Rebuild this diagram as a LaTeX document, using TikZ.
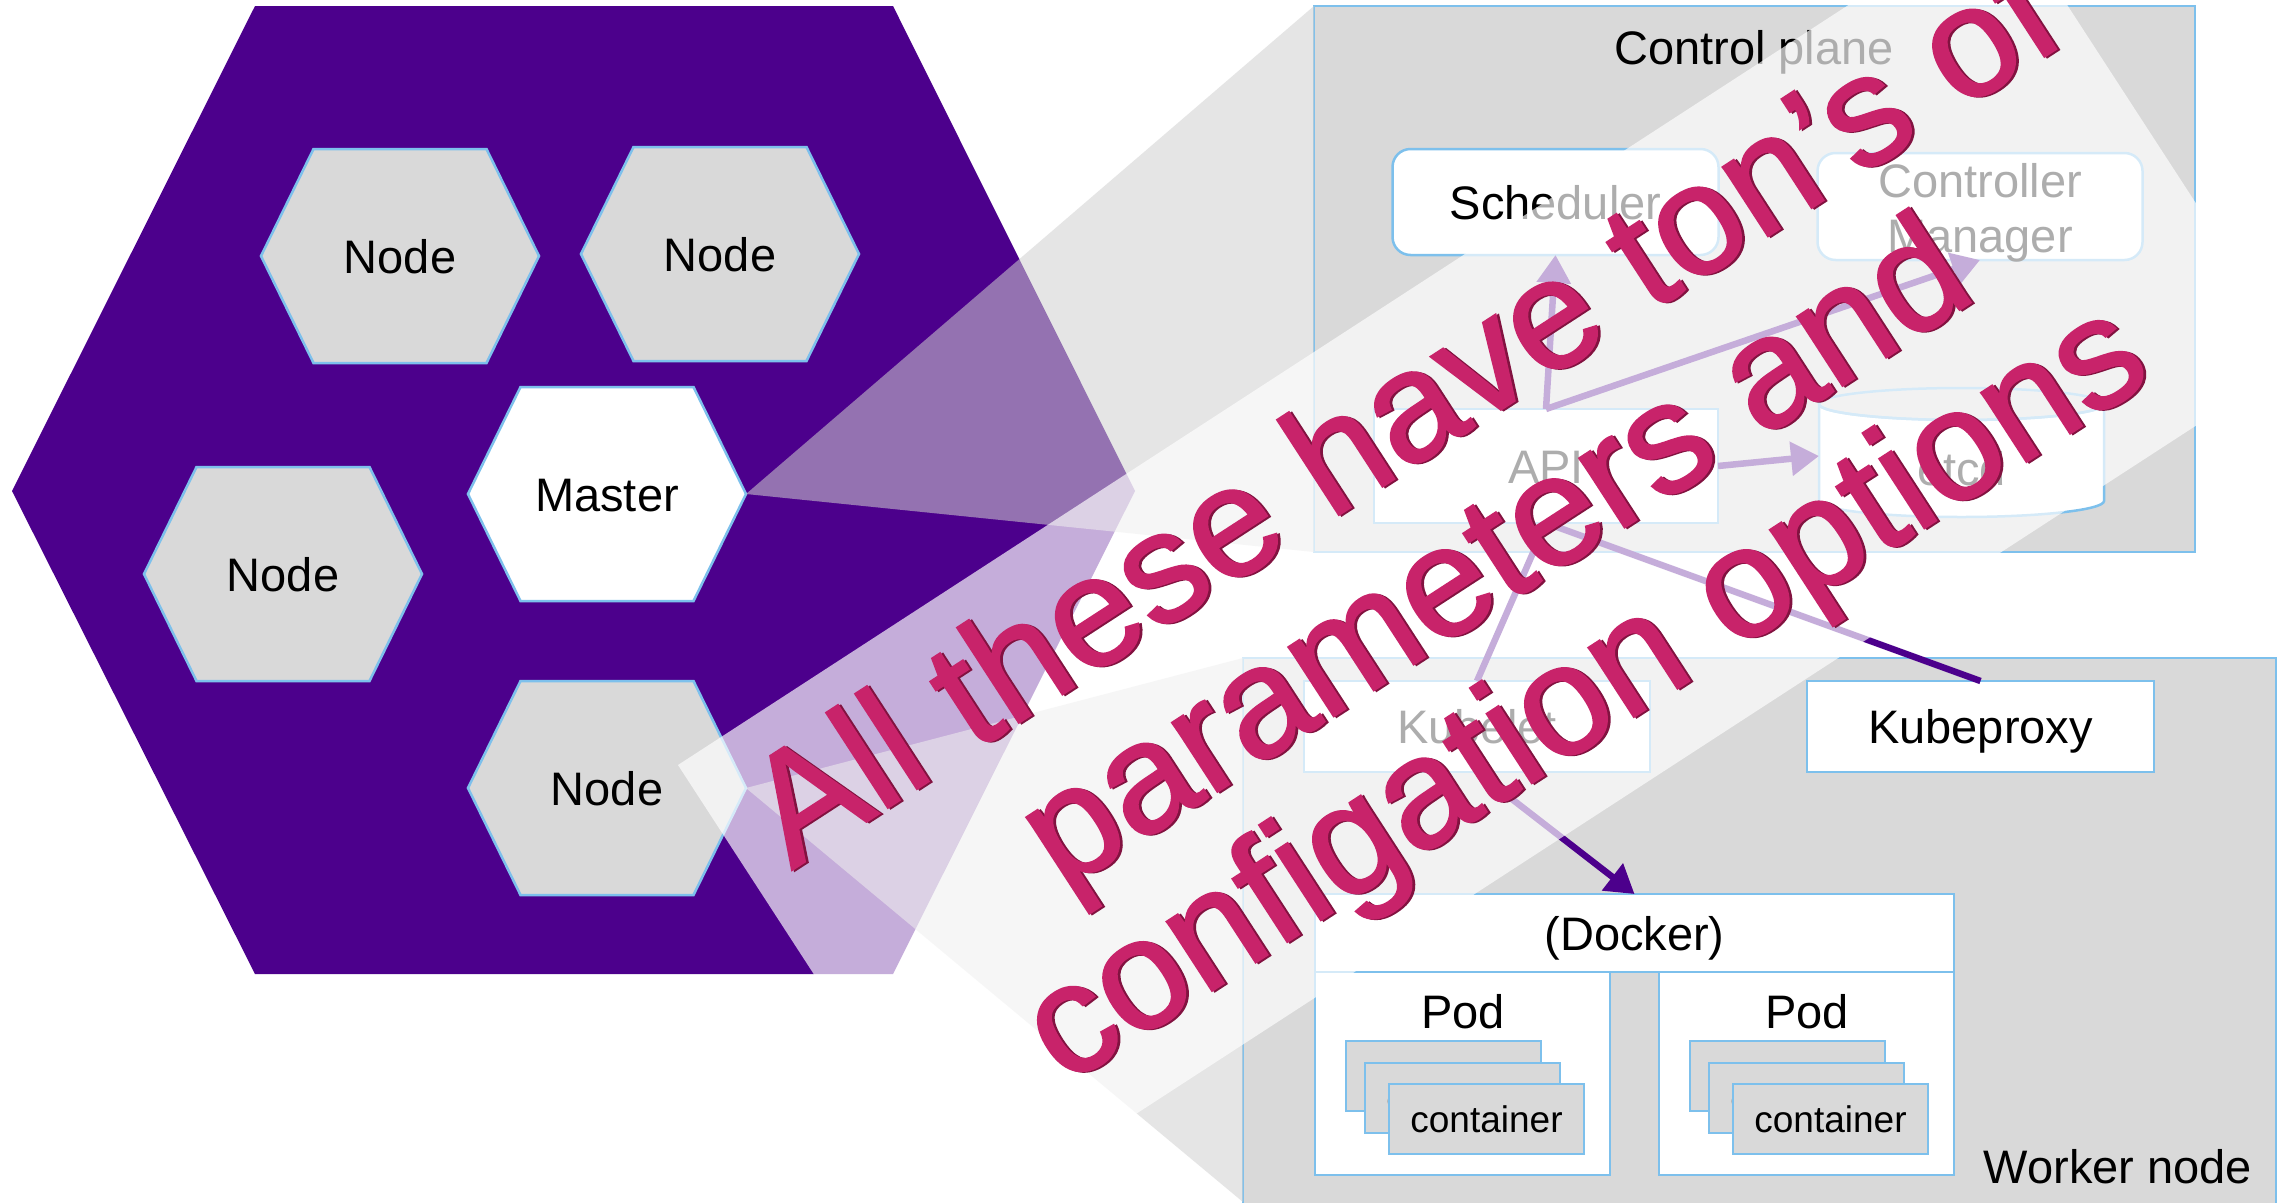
\documentclass[tikz,border=0pt]{standalone}
\usepackage{fontspec}
\setmainfont{Liberation Sans}
\newfontfamily\sloganfont[FakeBold=1.5]{Liberation Sans}
\usetikzlibrary{arrows.meta}

\definecolor{hexpurple}{RGB}{76,0,140}
\definecolor{cellgray}{RGB}{217,217,217}
\definecolor{edgeblue}{RGB}{125,192,236}
\definecolor{wedgegray}{RGB}{208,208,208}
\definecolor{slogan}{RGB}{200,35,106}
\definecolor{slogandark}{RGB}{130,18,64}

% hexagonal cell: name, centre x, centre y, fill, label
\newcommand\hexcell[5]{%
  \path[hexline, fill=#4] (#2-139,#3) -- (#2-86.5,#3-107) -- (#2+86.5,#3-107)
        -- (#2+139,#3) -- (#2+86.5,#3+107) -- (#2-86.5,#3+107) -- cycle;
  \node[celltext] (#1) at (#2,#3+17) {#5};
  \coordinate (#1-e) at (#2+139,#3);}

\begin{document}
\begin{tikzpicture}[x=1pt, y=-1pt,
  hexline/.style={draw=edgeblue, line width=2.5pt},
  celltext/.style={font=\fontsize{47}{56}\selectfont, inner sep=0pt, anchor=base},
  boxstyle/.style={draw=edgeblue, line width=2.5pt, fill=white, inner sep=0pt, outer sep=0pt,
                   text height=34pt, text depth=0pt, font=\fontsize{47}{56}\selectfont},
  areastyle/.style={draw=edgeblue, line width=2.5pt, fill=cellgray, inner sep=0pt, outer sep=0pt},
  ctrbox/.style={draw=edgeblue, line width=2.5pt, fill=cellgray, inner sep=0pt, outer sep=0pt,
                 minimum width=195pt, minimum height=70pt, text height=26pt, text depth=0pt,
                 font=\fontsize{37}{44}\selectfont},
  link/.style={draw=hexpurple, line width=6.5pt},
  flow/.style={link, -{Triangle[length=28pt,width=33pt]}},
  wedge/.style={fill=wedgegray, fill opacity=0.55},
  slogantext/.style={font=\sloganfont\fontsize{156}{160}\selectfont, text=slogan, inner sep=0pt,
                     anchor=base, rotate=33},
  sloganshade/.style={slogantext, text=slogandark, xshift=2pt, yshift=-2pt},
]
\useasboundingbox (0,0) rectangle (2290,1202);
\fill[white] (0,0) rectangle (2290,1202);

% cluster hexagon
\fill[hexpurple] (12,491) -- (255,6) -- (893,6) -- (1135,491) -- (893,974) -- (255,974) -- cycle;
\hexcell{node1}{400}{256}{cellgray}{Node}
\hexcell{node2}{720}{254}{cellgray}{Node}
\hexcell{node3}{283}{574}{cellgray}{Node}
\hexcell{master}{607}{494}{white}{Master}
\hexcell{node4}{607}{788}{cellgray}{Node}

% control plane
\node[areastyle, minimum width=881pt, minimum height=546pt] (cp) at (1754.5,279) {};
\node[celltext] (cplabel) at (1754,64) {Control plane};
\node[boxstyle, rounded corners=18pt, minimum width=326pt, minimum height=106pt] (sched) at (1555.5,202) {Scheduler};
\node[boxstyle, rounded corners=18pt, minimum width=325pt, minimum height=107pt] (cm) at (1980,206.5) {};
\node[celltext] (cmtop) at (1980,197) {Controller};
\node[celltext] (cmbot) at (1980,252) {Manager};
\node[boxstyle, minimum width=344pt, minimum height=114pt] (api) at (1546,466) {API};
\path[draw=edgeblue, line width=2.5pt, fill=white]
  (1819,404) -- (1819,501) arc[start angle=180, end angle=0, x radius=142.5, y radius=16]
  -- (2104,404) arc[start angle=0, end angle=180, x radius=142.5, y radius=16] -- cycle;
\draw[edgeblue, line width=2.5pt] (1961.5,404) ellipse[x radius=142.5, y radius=16];
\node[boxstyle, draw=none, fill=none, minimum width=285pt, minimum height=60pt] (etcd) at (1961.5,468) {etcd};

% worker node
\node[areastyle, minimum width=1033pt, minimum height=557pt] (worker) at (1759.5,936.5) {};
\node[celltext] (wlabel) at (2118,1183.5) {Worker node};
\node[boxstyle, minimum width=346pt, minimum height=91pt] (kubelet) at (1477,726.5) {Kubelet};
\node[boxstyle, minimum width=347pt, minimum height=91pt] (kubeproxy) at (1980.5,726.5) {Kubeproxy};
\node[boxstyle, minimum width=639pt, minimum height=78pt] (docker) at (1634.5,933) {(Docker)};
\node[boxstyle, minimum width=295pt, minimum height=203pt] (podl) at (1462.5,1073.5) {};
\node[boxstyle, minimum width=295pt, minimum height=203pt] (podr) at (1806.5,1073.5) {};
\node[celltext] (podllabel) at (1463,1028) {Pod};
\node[celltext] (podrlabel) at (1807,1028) {Pod};
\node[ctrbox] (cl1) at (1443.5,1076) {};
\node[ctrbox] (cl2) at (1462.5,1098) {container};
\node[ctrbox] (cl3) at (1486.5,1119) {container};
\node[ctrbox] (cr1) at (1787.5,1076) {};
\node[ctrbox] (cr2) at (1806.5,1098) {container};
\node[ctrbox] (cr3) at (1830.5,1119) {container};

% connectors
\draw[flow] (api.north) -- (sched.south);
\draw[flow] (api.north) -- (cm.south);
\draw[flow] (api.east) -- ([yshift=12pt]etcd.west);
\draw[link] (api.south) -- (kubelet.north);
\draw[link] (api.south) -- (kubeproxy.north);
\draw[flow] (kubelet.south) -- (docker.north);

% magnifier wedges
\fill[wedge] (master-e) -- (cp.north west) -- (cp.south west) -- cycle;
\fill[wedge] (node4-e) -- (worker.north west) -- (1243,1202) -- cycle;

% translucent banner with the slogan
\fill[white, fill opacity=0.68] (678,765) -- (2002.3,-94.9) -- (2297.5,359.7) -- (973.2,1219.6) -- cycle;
\node[sloganshade] (s1b) at (1430.7,455.1) {All these have ton’s of};
\node[sloganshade] (s2b) at (1521.1,594.4) {parameters and};
\node[sloganshade] (s3b) at (1610.4,731.9) {configation options};
\node[slogantext] (s1) at (1430.7,455.1) {All these have ton’s of};
\node[slogantext] (s2) at (1521.1,594.4) {parameters and};
\node[slogantext] (s3) at (1610.4,731.9) {configation options};
\end{tikzpicture}
\end{document}
